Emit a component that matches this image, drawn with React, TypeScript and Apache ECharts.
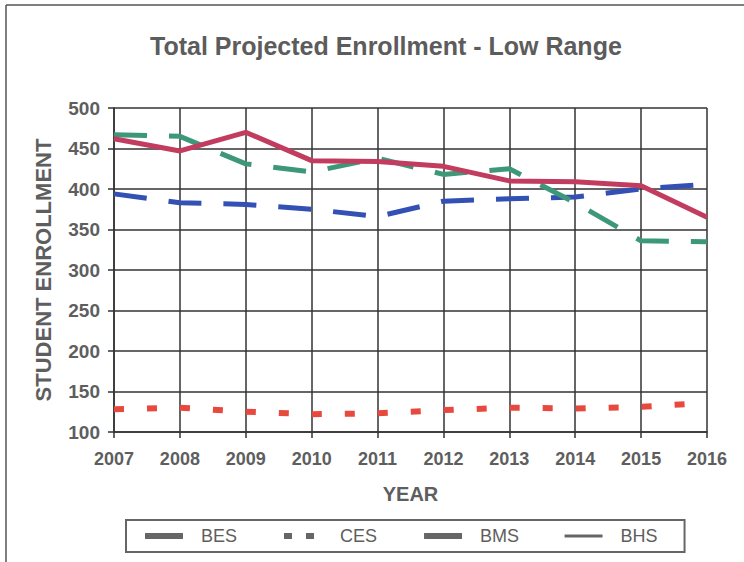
import React, { useEffect, useRef } from "react";
import * as echarts from "echarts";

const years = ["2007", "2008", "2009", "2010", "2011", "2012", "2013", "2014", "2015", "2016"];
const bes = [394, 383, 381, 375, 366, 385, 388, 390, 400, 406];
const ces = [128, 130, 125, 122, 123, 127, 130, 129, 131, 136];
const bms = [467, 465, 431, 421, 438, 418, 425, 383, 336, 335];
const bhs = [462, 447, 470, 435, 434, 428, 410, 409, 404, 365];

const FONT = "'Liberation Sans', Arial, sans-serif";
const TXT = "#5e5e5e";

export default function App() {
  const ref = useRef<HTMLDivElement>(null);
  useEffect(() => {
    if (!ref.current) return;
    const chart = echarts.init(ref.current, null, { renderer: "svg" });
    const legendItem = (name: string, type: any, width: number) => ({
      name,
      lineStyle: { color: "#666", type, width, opacity: 1 },
      itemStyle: { color: "#666", opacity: 0, borderWidth: 0 },
    });
    chart.setOption({
      animation: false,
      backgroundColor: "#ffffff",
      title: {
        text: "Total Projected Enrollment - Low Range",
        left: 145,
        top: 28,
        textStyle: { fontFamily: FONT, fontSize: 25, fontWeight: "bold", color: "#5c5c5c" },
      },
      grid: { left: 114, right: 37, top: 108, bottom: 130 },
      legend: {
        left: 126,
        top: 520,
        orient: "horizontal",
        itemWidth: 38,
        itemHeight: 8,
        itemGap: 44,
        padding: [7, 27, 7, 16],
        borderColor: "#666",
        borderWidth: 2,
        textStyle: { fontFamily: FONT, fontSize: 18, color: TXT, padding: [0, 0, 0, 13] },
        data: [
          legendItem("BES", "solid", 6),
          legendItem("CES", [8, 14], 6),
          legendItem("BMS", "solid", 6),
          legendItem("BHS", "solid", 3),
        ],
      },
      xAxis: {
        type: "category",
        data: years,
        boundaryGap: false,
        name: "YEAR",
        nameLocation: "middle",
        nameGap: 52,
        nameTextStyle: { fontFamily: FONT, fontSize: 20, fontWeight: "bold", color: TXT },
        axisLine: { lineStyle: { color: "#333", width: 1.5 } },
        axisTick: { show: true, length: 6, lineStyle: { color: "#333", width: 1.5 } },
        axisLabel: { margin: 18, fontFamily: FONT, fontSize: 18, fontWeight: "bold", color: TXT },
        splitLine: { show: true, lineStyle: { color: "#333", width: 1.5 } },
      },
      yAxis: {
        type: "value",
        min: 100,
        max: 500,
        interval: 50,
        name: "STUDENT ENROLLMENT",
        nameLocation: "middle",
        nameGap: 60,
        nameRotate: 90,
        nameTextStyle: { fontFamily: FONT, fontSize: 22, fontWeight: "bold", color: TXT },
        axisLine: { show: true, lineStyle: { color: "#333", width: 1.5 } },
        axisTick: { show: true, length: 6, lineStyle: { color: "#333", width: 1.5 } },
        axisLabel: { margin: 14, fontFamily: FONT, fontSize: 19, fontWeight: "bold", color: TXT },
        splitLine: { show: true, lineStyle: { color: "#333", width: 1.5 } },
      },
      series: [
        {
          name: "BES",
          type: "line",
          data: bes,
          symbol: "none",
          z: 3,
          lineStyle: { color: "#3350b5", width: 5, type: [33, 22] },
          itemStyle: { color: "#3350b5" },
        },
        {
          name: "CES",
          type: "line",
          data: ces,
          symbol: "none",
          z: 3,
          lineStyle: { color: "#e8493f", width: 6, type: [10, 23] },
          itemStyle: { color: "#e8493f" },
        },
        {
          name: "BMS",
          type: "line",
          data: bms,
          symbol: "none",
          z: 4,
          lineStyle: { color: "#3c9878", width: 5, type: [33, 22] },
          itemStyle: { color: "#3c9878" },
        },
        {
          name: "BHS",
          type: "line",
          data: bhs,
          symbol: "none",
          z: 5,
          lineStyle: { color: "#c23c60", width: 5, type: "solid" },
          itemStyle: { color: "#c23c60" },
        },
      ],
      graphic: [
        { type: "line", shape: { x1: 6, y1: 5, x2: 744, y2: 5 }, style: { stroke: "#555", lineWidth: 1.5 } },
        { type: "line", shape: { x1: 6, y1: 5, x2: 6, y2: 562 }, style: { stroke: "#555", lineWidth: 1.5 } },
      ],
    });
    return () => chart.dispose();
  }, []);
  return (
    <div
      ref={ref}
      style={{ position: "absolute", left: 0, top: 0, width: 744, height: 562, background: "#fff" }}
    />
  );
}
